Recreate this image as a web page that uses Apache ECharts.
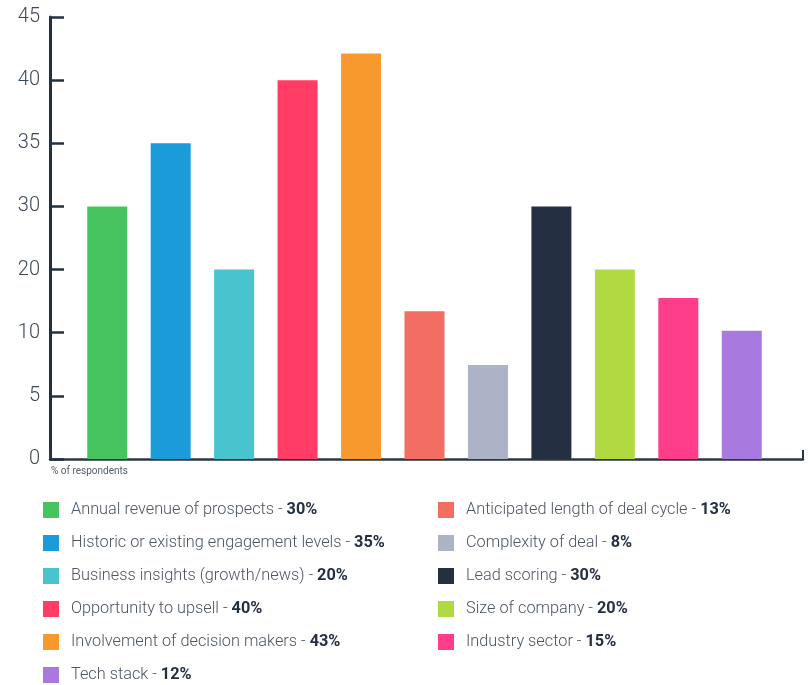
<!DOCTYPE html>
<html>
<head>
<meta charset="utf-8">
<script src="https://cdn.jsdelivr.net/npm/echarts@6/dist/echarts.min.js"></script>
<style>
html,body{margin:0;padding:0;background:#fff;}
#chart{width:811px;height:685px;}
</style>
</head>
<body>
<div id="chart"></div>
<script>
// Categories (legend order matches bar order)
var categories = [
  'Annual revenue of prospects',
  'Historic or existing engagement levels',
  'Business insights (growth/news)',
  'Opportunity to upsell',
  'Involvement of decision makers',
  'Anticipated length of deal cycle',
  'Complexity of deal',
  'Lead scoring',
  'Size of company',
  'Industry sector',
  'Tech stack'
];
// Percentages stated in the legend
var legendPct = [30, 35, 20, 40, 43, 13, 8, 30, 20, 15, 12];
// Bar heights as read against the (unevenly labelled) y axis
var barHeights = [30, 35, 20, 40, 42.1, 13.4, 7.45, 30, 20, 15.5, 10.3];
// Y tick labels, drawn at equal spacing in the original
var tickLabels = [0, 5, 10, 20, 30, 35, 40, 45];
var colors = ['#47c35f', '#1b9bd7', '#48c4cf', '#fe3c64', '#f8992e', '#f26d62',
              '#adb3c6', '#243042', '#b1d942', '#fe3e8b', '#a879de'];

// Map a value onto the equally spaced tick scale (piecewise linear)
function toAxis(v) {
  for (var i = 0; i < tickLabels.length - 1; i++) {
    if (v <= tickLabels[i + 1]) {
      return i + (v - tickLabels[i]) / (tickLabels[i + 1] - tickLabels[i]);
    }
  }
  return tickLabels.length - 1;
}

var pctByName = {};
categories.forEach(function (c, i) { pctByName[c] = legendPct[i]; });

var series = categories.map(function (name, i) {
  var d = categories.map(function (_, j) { return j === i ? toAxis(barHeights[i]) : '-'; });
  return {
    name: name,
    type: 'bar',
    xAxisIndex: 1,
    yAxisIndex: 1,
    stack: 'all',
    barWidth: 40,
    itemStyle: { color: colors[i] },
    data: d
  };
});

var legendText = {
  fontFamily: 'Roboto',
  padding: [0, 0, 0, 7],
  rich: {
    n: { fontFamily: 'Roboto', fontSize: 16.3, color: '#4b5563', fontWeight: 300 },
    b: { fontFamily: 'Roboto', fontSize: 16.3, color: '#243042', fontWeight: 'bold' }
  }
};
function legendFmt(name) { return '{n|' + name + ' - }{b|' + pctByName[name] + '%}'; }

var chart = echarts.init(document.getElementById('chart'), null, { renderer: 'canvas' });
chart.setOption({
  animation: false,
  backgroundColor: '#ffffff',
  grid: [
    { left: 50, top: 17, width: 753, height: 442 },
    { left: 75.5, top: 17, width: 698, height: 442 }
  ],
  xAxis: [
    {
      gridIndex: 0, type: 'value', min: 0, max: 1, interval: 1,
      axisLine: { show: true, lineStyle: { color: '#2b3646', width: 2.5 } },
      axisTick: { show: true, inside: true, length: 9, lineStyle: { color: '#2b3646', width: 2 } },
      axisLabel: { show: false },
      splitLine: { show: false }
    },
    {
      gridIndex: 1, type: 'category', data: categories, show: false
    }
  ],
  yAxis: [
    {
      gridIndex: 0, type: 'value', min: 0, max: 7, interval: 1,
      axisLine: { show: true, lineStyle: { color: '#243042', width: 3 } },
      axisTick: { show: true, inside: true, length: 14, lineStyle: { color: '#243042', width: 2.5 } },
      axisLabel: {
        margin: 10,
        fontFamily: 'Roboto', fontWeight: 300, fontSize: 20, color: '#3d4858',
        formatter: function (v) { return String(tickLabels[Math.round(v)]); }
      },
      splitLine: { show: false }
    },
    { gridIndex: 1, type: 'value', min: 0, max: 7, show: false }
  ],
  legend: [
    {
      orient: 'vertical', left: 43, top: 502, padding: 0, itemWidth: 16, itemHeight: 16, itemGap: 17,
      icon: 'rect', selectedMode: false,
      data: [categories[0], categories[1], categories[2], categories[3], categories[4], categories[10]],
      formatter: legendFmt, textStyle: legendText
    },
    {
      orient: 'vertical', left: 438, top: 502, padding: 0, itemWidth: 16, itemHeight: 16, itemGap: 17,
      icon: 'rect', selectedMode: false,
      data: [categories[5], categories[6], categories[7], categories[8], categories[9]],
      formatter: legendFmt, textStyle: legendText
    }
  ],
  graphic: [
    {
      type: 'text', left: 51, top: 466,
      style: { text: '% of respondents', fontFamily: 'Roboto', fontSize: 10, fill: '#555d68' }
    }
  ],
  series: series
});
</script>
</body>
</html>
